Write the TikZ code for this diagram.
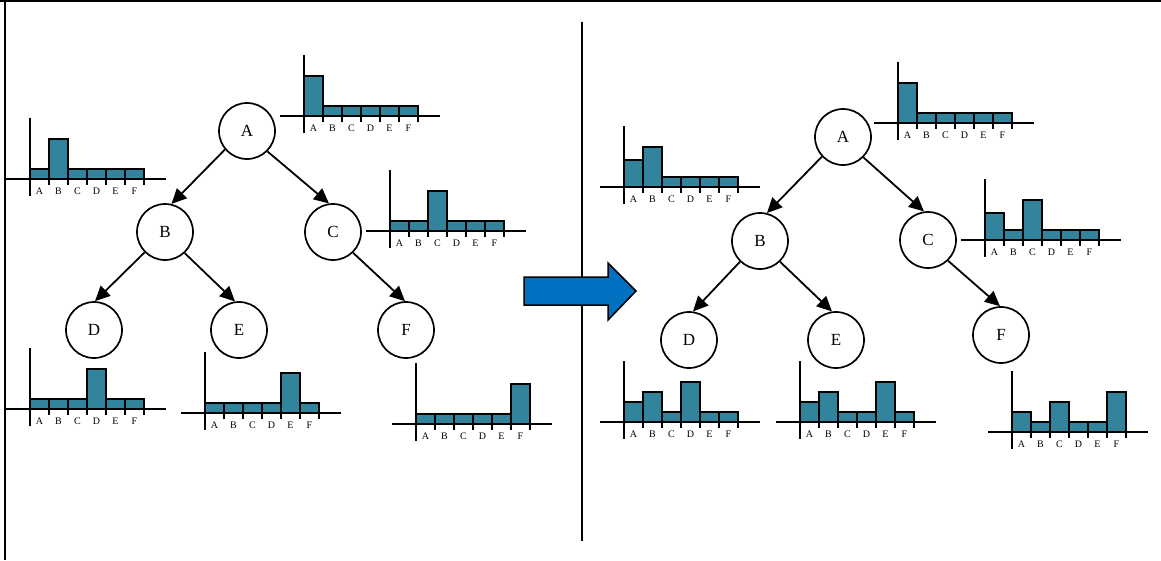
\documentclass[tikz,border=0pt]{standalone}
\usepackage{fontspec}
\setmainfont{Liberation Serif}
\usetikzlibrary{arrows.meta}
\definecolor{barteal}{RGB}{49,132,155}
\definecolor{arrowblue}{RGB}{0,112,192}
\tikzset{
    state/.style={draw=black, line width=1.7pt, circle, minimum size=56pt, inner sep=0pt, font=\fontsize{17}{17}\selectfont},
    edge/.style={black, line width=1.8pt, -{Triangle[length=15pt, width=14pt]}},
    bar/.style={draw=black, line width=1.6pt, fill=barteal},
    axis/.style={black, line width=1.6pt},
    letter/.style={inner sep=0pt, font=\fontsize{10}{10}\selectfont},
}
\begin{document}
\begin{tikzpicture}[x=1pt, y=-1pt]
        \useasboundingbox (0,0) rectangle (1161,560);
        \draw[line width=2.4pt] (0,1) -- (1161,1);
        \draw[line width=2pt] (5,1) -- (5,560);
        \draw[line width=1.8pt] (582,22) -- (582,541);

        \node (a) at (247,131)[state] {A};
        \node (b) at (165,232)[state] {B};
        \node (c) at (333,232)[state] {C};
        \node (d) at (94,330)[state] {D};
        \node (e) at (239,330)[state] {E};
        \node (f) at (406,330)[state] {F};

        \draw[edge] (a.-140) -- (b.77);
        \draw[edge] (a.-45) -- (c.98);
        \draw[edge] (b.-135) -- (d.88);
        \draw[edge] (b.-47) -- (e.98);
        \draw[edge] (c.-46) -- (f.92);

        \node (a2) at (843,137)[state] {A};
        \node (b2) at (760,241)[state] {B};
        \node (c2) at (928,240)[state] {C};
        \node (d2) at (689,340)[state] {D};
        \node (e2) at (836,340)[state] {E};
        \node (f2) at (1001,335)[state] {F};

        \draw[edge] (a2.-137) -- (b2.76);
        \draw[edge] (a2.-45) -- (c2.98);
        \draw[edge] (b2.-134) -- (d2.82);
        \draw[edge] (b2.-46) -- (e2.98);
        \draw[edge] (c2.-46) -- (f2.92);

        \draw[line width=1.5pt, fill=arrowblue] (524,277) -- (608,277) -- (608,263) -- (636,291)
            -- (608,320) -- (608,305) -- (524,305) -- cycle;

        \foreach \ox/\oy/\vals [count=\n] in {304/116/{4,1,1,1,1,1}, 30/179/{1,4,1,1,1,1},
                390/231/{1,1,4,1,1,1}, 30/409/{1,1,1,4,1,1}, 205/413/{1,1,1,1,4,1},
                416/424/{1,1,1,1,1,4}, 898/123/{4,1,1,1,1,1}, 624/187/{2.7,4,1,1,1,1},
                985/240/{2.7,1,4,1,1,1}, 624/422/{2,3,1,4,1,1}, 800/422/{2,3,1,1,4,1},
                1012/432/{2,1,3,1,1,4}} {
            \draw[axis] (\ox-24,\oy) -- (\ox+136,\oy);
            \draw[axis] (\ox,\oy-61) -- (\ox,\oy+17);
            \foreach \v [count=\i] in \vals {
                \draw[bar] ({\ox+19*(\i-1)},\oy) rectangle ++(19,{-10*\v});
                \draw[axis] ({\ox+19*\i},\oy) -- ++(0,6);
            }
            \foreach \l [count=\i] in {A,B,C,D,E,F}
                \node (h\n\l) at ({\ox+19*\i-9.5},\oy+12)[letter] {\l};
        }
\end{tikzpicture}
\end{document}
